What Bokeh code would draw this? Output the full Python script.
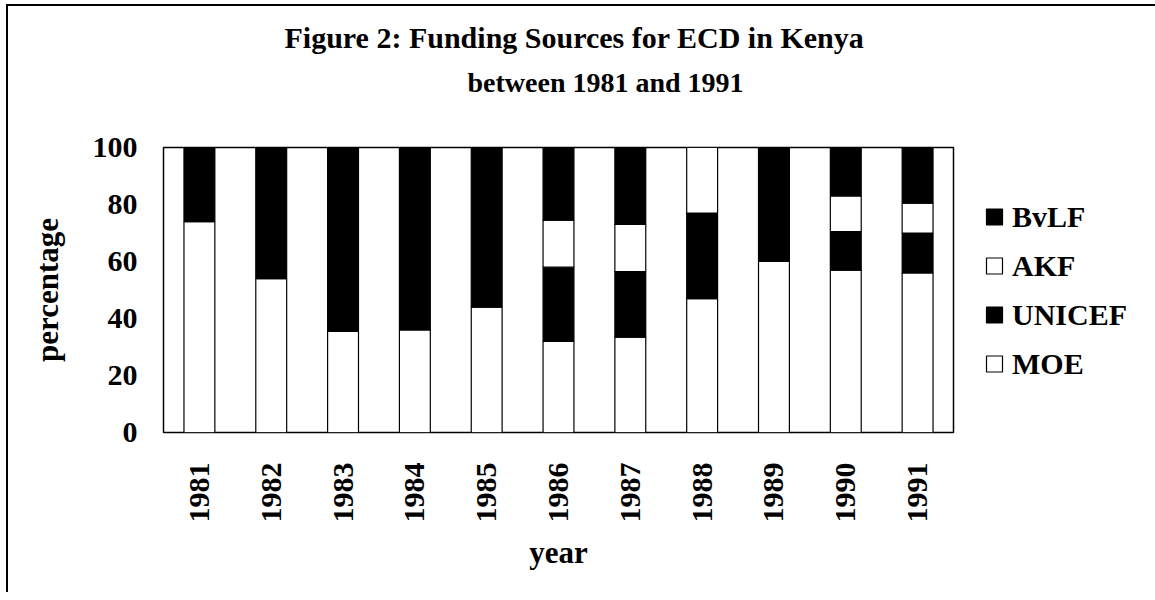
from bokeh.plotting import figure
from bokeh.models import (Legend, LegendItem, Title, FactorRange, Range1d,
                          ColumnDataSource, FixedTicker)
from bokeh.embed import file_html
from bokeh.resources import INLINE
import math

years = ["1981", "1982", "1983", "1984", "1985", "1986",
         "1987", "1988", "1989", "1990", "1991"]
moe = [74, 54, 35.5, 36, 44, 32, 33.5, 47, 60, 57, 56]
unicef = [26, 46, 64.5, 64, 56, 26, 23, 30, 40, 13.5, 14]
akf = [0, 0, 0, 0, 0, 16.5, 16.5, 23, 0, 12.5, 10.5]
bvlf = [0, 0, 0, 0, 0, 25.5, 27, 0, 0, 17, 19.5]
y_ticks = [0, 20, 40, 60, 80, 100]

series = ["MOE", "UNICEF", "AKF", "BvLF"]
fills = ["white", "black", "white", "black"]

src = ColumnDataSource(dict(year=years, MOE=moe, UNICEF=unicef, AKF=akf, BvLF=bvlf))

FONT = "Liberation Serif"
p = figure(x_range=FactorRange(factors=years), y_range=Range1d(0, 100),
           frame_width=790, frame_height=285,
           output_backend="svg", toolbar_location=None,
           min_border_left=155, min_border_right=180,
           min_border_top=141, min_border_bottom=160,
           styles={"border-top": "2px solid black", "border-left": "2px solid black",
                   "margin-left": "6px", "margin-top": "4px"})
p.title = None

rs = p.vbar_stack(series, x="year", width=0.43, fill_color=fills,
                  line_color="black", line_width=1.2, source=src)

p.xgrid.visible = False
p.ygrid.visible = False
p.outline_line_color = "black"
p.outline_line_width = 1.5
p.background_fill_color = "white"

for ax in (p.xaxis[0], p.yaxis[0]):
    ax.axis_line_color = None
    ax.major_tick_line_color = None
    ax.minor_tick_line_color = None
    ax.major_label_text_font = FONT
    ax.major_label_text_font_style = "bold"
    ax.major_label_text_font_size = "30px"
    ax.major_label_text_color = "black"
    ax.axis_label_text_font = FONT
    ax.axis_label_text_font_style = "bold"
    ax.axis_label_text_font_size = "31px"
    ax.axis_label_text_color = "black"

p.yaxis.ticker = FixedTicker(ticks=y_ticks)
p.yaxis.axis_label = "percentage"
p.yaxis.major_label_standoff = 20
p.yaxis.axis_label_standoff = 25

p.xaxis.axis_label = "year"
p.xaxis.major_label_orientation = math.pi / 2
p.xaxis.major_label_text_baseline = "alphabetic"
p.xaxis.major_label_standoff = 24
p.xaxis.axis_label_standoff = 9

order = [3, 2, 1, 0]
items = [LegendItem(label=series[i], renderers=[rs[i]]) for i in order]
legend = Legend(items=items, location="left", padding=0, margin=31,
                border_line_color=None, background_fill_alpha=0,
                glyph_width=20, glyph_height=20, label_height=36,
                spacing=13, label_standoff=8,
                label_text_font=FONT, label_text_font_style="bold",
                label_text_font_size="30px", label_text_color="black")
p.add_layout(legend, "right")

t2 = Title(text="between 1981 and 1991", align="left", offset=304,
           standoff=0, padding=dict(left=0, right=0, top=0, bottom=50),
           text_font=FONT, text_font_style="bold",
           text_font_size="28px", text_color="black")
t1 = Title(text="Figure 2: Funding Sources for ECD in Kenya", align="left",
           offset=121, standoff=21, text_font=FONT, text_font_style="bold",
           text_font_size="30px", text_color="black")
p.add_layout(t2, "above")
p.add_layout(t1, "above")

open("out.html", "w").write(file_html(p, INLINE))
